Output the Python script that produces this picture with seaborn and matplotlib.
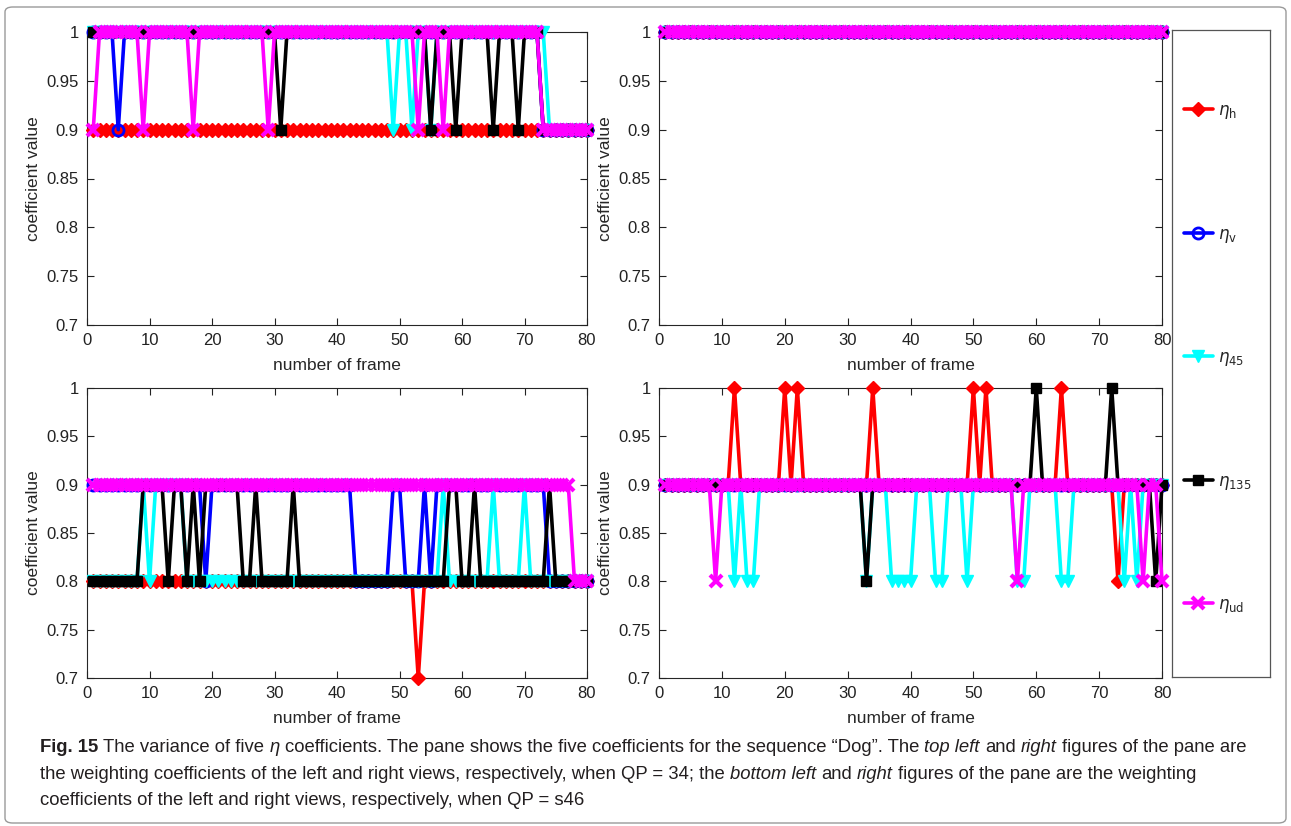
import matplotlib
matplotlib.use("Agg")
import matplotlib.pyplot as plt
import seaborn as sns
from matplotlib.lines import Line2D
from matplotlib.patches import FancyBboxPatch

# ---------------- data (frames 1..80) ----------------
frames = list(range(1, 81))

# QP = 34, left view (top left)
tl_h = [.9] * 80
tl_v = [1, 1, 1, 1, .9, 1, 1, 1, 1, 1,
        1, 1, 1, 1, 1, 1, 1, 1, 1, 1,
        1, 1, 1, 1, 1, 1, 1, 1, 1, 1,
        1, 1, 1, 1, 1, 1, 1, 1, 1, 1,
        1, 1, 1, 1, 1, 1, 1, 1, 1, 1,
        1, 1, 1, 1, 1, 1, 1, 1, 1, 1,
        1, 1, 1, 1, 1, 1, 1, 1, 1, 1,
        1, 1, .9, .9, .9, .9, .9, .9, .9, .9]
tl_45 = [1, 1, 1, 1, 1, 1, 1, 1, 1, 1,
         1, 1, 1, 1, 1, 1, 1, 1, 1, 1,
         1, 1, 1, 1, 1, 1, 1, 1, 1, 1,
         1, 1, 1, 1, 1, 1, 1, 1, 1, 1,
         1, 1, 1, 1, 1, 1, 1, 1, .9, 1,
         1, .9, 1, 1, .9, 1, 1, 1, 1, 1,
         1, 1, 1, 1, 1, 1, 1, 1, 1, 1,
         1, 1, 1, .9, .9, .9, .9, .9, .9, .9]
tl_135 = [1, 1, 1, 1, 1, 1, 1, 1, 1, 1,
          1, 1, 1, 1, 1, 1, 1, 1, 1, 1,
          1, 1, 1, 1, 1, 1, 1, 1, 1, 1,
          .9, 1, 1, 1, 1, 1, 1, 1, 1, 1,
          1, 1, 1, 1, 1, 1, 1, 1, 1, 1,
          1, 1, 1, 1, .9, 1, 1, 1, .9, 1,
          1, 1, 1, 1, .9, 1, 1, 1, .9, 1,
          1, 1, .9, .9, .9, .9, .9, .9, .9, .9]
tl_ud = [.9, 1, 1, 1, 1, 1, 1, 1, .9, 1,
         1, 1, 1, 1, 1, 1, .9, 1, 1, 1,
         1, 1, 1, 1, 1, 1, 1, 1, .9, 1,
         1, 1, 1, 1, 1, 1, 1, 1, 1, 1,
         1, 1, 1, 1, 1, 1, 1, 1, 1, 1,
         1, 1, .9, 1, 1, 1, .9, 1, 1, 1,
         1, 1, 1, 1, 1, 1, 1, 1, 1, 1,
         1, 1, .9, .9, .9, .9, .9, .9, .9, .9]

# QP = 34, right view (top right)
tr_h = [1] * 80
tr_v = [1] * 80
tr_45 = [1] * 80
tr_135 = [1] * 80
tr_ud = [1] * 80

# QP = 46, left view (bottom left)
bl_h = [.8, .8, .8, .8, .8, .8, .8, .8, .8, .8,
        .8, .8, .8, .8, .8, .8, .8, .8, .8, .8,
        .8, .8, .8, .8, .8, .8, .8, .8, .8, .8,
        .8, .8, .8, .8, .8, .8, .8, .8, .8, .8,
        .8, .8, .8, .8, .8, .8, .8, .8, .8, .8,
        .8, .8, .7, .8, .8, .8, .8, .8, .8, .8,
        .8, .8, .8, .8, .8, .8, .8, .8, .8, .8,
        .8, .8, .8, .8, .8, .8, .8, .8, .8, .8]
bl_v = [.9, .9, .9, .9, .9, .9, .9, .9, .9, .9,
        .9, .9, .9, .9, .9, .9, .9, .9, .8, .9,
        .9, .9, .9, .9, .9, .9, .9, .9, .9, .9,
        .9, .9, .9, .9, .9, .9, .9, .9, .9, .9,
        .9, .9, .8, .8, .8, .8, .8, .8, .9, .9,
        .8, .8, .8, .9, .8, .9, .9, .9, .9, .9,
        .9, .9, .9, .9, .9, .9, .9, .9, .9, .9,
        .9, .9, .9, .8, .8, .8, .8, .8, .8, .8]
bl_45 = [.8, .8, .8, .8, .8, .8, .8, .8, .9, .8,
         .9, .9, .9, .9, .9, .8, .8, .8, .8, .8,
         .8, .8, .8, .8, .8, .8, .8, .8, .8, .8,
         .8, .8, .8, .8, .8, .8, .8, .8, .8, .8,
         .8, .8, .8, .8, .8, .8, .8, .8, .8, .8,
         .8, .8, .8, .8, .8, .8, .9, .8, .8, .8,
         .8, .8, .8, .8, .9, .8, .8, .8, .8, .9,
         .8, .8, .8, .8, .8, .8, .8, .8, .8, .8]
bl_135 = [.8, .8, .8, .8, .8, .8, .8, .8, .9, .9,
          .9, .9, .8, .9, .9, .8, .9, .8, .9, .9,
          .9, .9, .9, .9, .8, .8, .9, .8, .8, .8,
          .8, .8, .9, .8, .8, .8, .8, .8, .8, .8,
          .8, .8, .8, .8, .8, .8, .8, .8, .8, .8,
          .8, .8, .8, .8, .8, .8, .8, .9, .9, .8,
          .8, .9, .8, .8, .8, .8, .8, .8, .8, .8,
          .8, .8, .8, .9, .8, .8, .8, .8, .8, .8]
bl_ud = [.9, .9, .9, .9, .9, .9, .9, .9, .9, .9,
         .9, .9, .9, .9, .9, .9, .9, .9, .9, .9,
         .9, .9, .9, .9, .9, .9, .9, .9, .9, .9,
         .9, .9, .9, .9, .9, .9, .9, .9, .9, .9,
         .9, .9, .9, .9, .9, .9, .9, .9, .9, .9,
         .9, .9, .9, .9, .9, .9, .9, .9, .9, .9,
         .9, .9, .9, .9, .9, .9, .9, .9, .9, .9,
         .9, .9, .9, .9, .9, .9, .9, .8, .8, .8]

# QP = 46, right view (bottom right)
br_h = [.9, .9, .9, .9, .9, .9, .9, .9, .9, .9,
        .9, 1, .9, .9, .9, .9, .9, .9, .9, 1,
        .9, 1, .9, .9, .9, .9, .9, .9, .9, .9,
        .9, .9, .9, 1, .9, .9, .9, .9, .9, .9,
        .9, .9, .9, .9, .9, .9, .9, .9, .9, 1,
        .9, 1, .9, .9, .9, .9, .9, .9, .9, .9,
        .9, .9, .9, 1, .9, .9, .9, .9, .9, .9,
        .9, .9, .8, .9, .9, .9, .9, .9, .9, .9]
br_v = [.9] * 80
br_45 = [.9, .9, .9, .9, .9, .9, .9, .9, .9, .9,
         .9, .8, .9, .8, .8, .9, .9, .9, .9, .9,
         .9, .9, .9, .9, .9, .9, .9, .9, .9, .9,
         .9, .9, .8, .9, .9, .9, .8, .8, .8, .8,
         .9, .9, .9, .8, .8, .9, .9, .9, .8, .9,
         .9, .9, .9, .9, .9, .9, .8, .8, .9, .9,
         .9, .9, .9, .8, .8, .9, .9, .9, .9, .9,
         .9, .9, .9, .8, .9, .8, .9, .9, .9, .9]
br_135 = [.9, .9, .9, .9, .9, .9, .9, .9, .9, .9,
          .9, .9, .9, .9, .9, .9, .9, .9, .9, .9,
          .9, .9, .9, .9, .9, .9, .9, .9, .9, .9,
          .9, .9, .8, .9, .9, .9, .9, .9, .9, .9,
          .9, .9, .9, .9, .9, .9, .9, .9, .9, .9,
          .9, .9, .9, .9, .9, .9, .9, .9, .9, 1,
          .9, .9, .9, .9, .9, .9, .9, .9, .9, .9,
          .9, 1, .9, .9, .9, .9, .9, .9, .8, .9]
br_ud = [.9, .9, .9, .9, .9, .9, .9, .9, .8, .9,
         .9, .9, .9, .9, .9, .9, .9, .9, .9, .9,
         .9, .9, .9, .9, .9, .9, .9, .9, .9, .9,
         .9, .9, .9, .9, .9, .9, .9, .9, .9, .9,
         .9, .9, .9, .9, .9, .9, .9, .9, .9, .9,
         .9, .9, .9, .9, .9, .9, .8, .9, .9, .9,
         .9, .9, .9, .9, .9, .9, .9, .9, .9, .9,
         .9, .9, .9, .9, .9, .9, .8, .9, .9, .8]

series_labels = [r"$\eta_{\rm h}$", r"$\eta_{\rm v}$", r"$\eta_{45}$",
                 r"$\eta_{135}$", r"$\eta_{\rm ud}$"]
x_ticks = [0, 10, 20, 30, 40, 50, 60, 70, 80]
y_ticks = [0.7, 0.75, 0.8, 0.85, 0.9, 0.95, 1.0]
y_ticklabels = ["0.7", "0.75", "0.8", "0.85", "0.9", "0.95", "1"]
x_label = "number of frame"
y_label = "coefficient value"

caption_lines = [
    [("Fig. 15", "b"), ("The variance of five", "n"), ("η", "i"),
     ("coefficients. The pane shows the five coefficients for the sequence \u201cDog\u201d. The", "n"),
     ("top left", "i"), ("and", "n"), ("right", "i"), ("figures of the pane are", "n")],
    [("the weighting coefficients of the left and right views, respectively, when QP = 34; the", "n"),
     ("bottom left", "i"), ("and", "n"), ("right", "i"),
     ("figures of the pane are the weighting", "n")],
    [("coefficients of the left and right views, respectively, when QP = s46", "n")],
]

# ---------------- styles ----------------
styles = [
    dict(color="#ff0000", marker="D", markersize=7.5, markerfacecolor="#ff0000",
         markeredgecolor="#ff0000", markeredgewidth=1),
    dict(color="#0000ff", marker="o", markersize=8, markerfacecolor="none",
         markeredgecolor="#0000ff", markeredgewidth=2),
    dict(color="#00ffff", marker="v", markersize=9, markerfacecolor="#00ffff",
         markeredgecolor="#00ffff", markeredgewidth=1),
    dict(color="#000000", marker="s", markersize=6.5, markerfacecolor="#000000",
         markeredgecolor="#000000", markeredgewidth=1),
    dict(color="#ff00ff", marker="x", markersize=8, markerfacecolor="#ff00ff",
         markeredgecolor="#ff00ff", markeredgewidth=3),
]
LW = 2.6

sns.set_style("ticks")
plt.rcParams["font.family"] = ["Liberation Sans", "DejaVu Sans"]
plt.rcParams["mathtext.fontset"] = "dejavusans"

W, H = 1291, 826
fig = plt.figure(figsize=(W / 100, H / 100), dpi=100)


def px_rect(l, t, r, b):
    return [l / W, 1 - b / H, (r - l) / W, (b - t) / H]


panels = [
    (px_rect(87, 32, 587, 325), [tl_h, tl_v, tl_45, tl_135, tl_ud]),
    (px_rect(659, 32, 1162, 325), [tr_h, tr_v, tr_45, tr_135, tr_ud]),
    (px_rect(87, 388, 587, 678), [bl_h, bl_v, bl_45, bl_135, bl_ud]),
    (px_rect(659, 388, 1162, 678), [br_h, br_v, br_45, br_135, br_ud]),
]

for rect, data in panels:
    ax = fig.add_axes(rect)
    for vals, st in zip(data, styles):
        sns.lineplot(x=frames, y=vals, ax=ax, linewidth=LW, clip_on=False,
                     legend=False, errorbar=None, **st)
    ax.set_xlim(0, 80)
    ax.set_ylim(0.7, 1.0)
    ax.set_xticks(x_ticks)
    ax.set_yticks(y_ticks)
    ax.set_yticklabels(y_ticklabels)
    ax.tick_params(direction="in", top=True, right=True, length=5, width=0.8,
                   labelsize=12, colors="#222222", pad=6)
    for sp in ax.spines.values():
        sp.set_visible(True)
        sp.set_linewidth(0.8)
        sp.set_color("#262626")
        sp.set_zorder(0.5)
    ax.set_xlabel(x_label, fontsize=12.5, labelpad=7)
    ax.set_ylabel(y_label, fontsize=12.5, labelpad=4)

# ---------------- legend ----------------
lax = fig.add_axes(px_rect(1172, 30, 1270, 677))
lax.set_xticks([])
lax.set_yticks([])
for sp in lax.spines.values():
    sp.set_linewidth(0.9)
    sp.set_color("#555555")
handles = [Line2D([], [], linewidth=LW, **st) for st in styles]
lax.legend(handles, series_labels, loc="center left", bbox_to_anchor=(0.05, 0.491),
           frameon=False, fontsize=12, labelspacing=6.33, handlelength=1.75,
           handletextpad=0.3, numpoints=1, borderaxespad=0)

# ---------------- border ----------------
fig.patches.append(FancyBboxPatch((5 / W, 3 / H), 1281 / W, 816 / H,
                                  boxstyle="round,pad=0,rounding_size=0.006",
                                  transform=fig.transFigure, fill=False,
                                  edgecolor="#9a9a9a", linewidth=1))

# ---------------- caption ----------------
cap_family = ["Liberation Sans Narrow", "Liberation Sans"]
renderer = fig.canvas.get_renderer()


def kw_for(style, size):
    kw = dict(fontsize=size, family=cap_family, color="#231f20")
    if style == "b":
        kw["fontweight"] = "bold"
    if style == "i":
        kw["fontstyle"] = "italic"
    return kw


def width_of(s, style, size):
    t = fig.text(0, 0, s, **kw_for(style, size))
    w = t.get_window_extent(renderer).width
    t.remove()
    return w


def line_width(runs, size):
    sp = width_of("n n", "n", size) - width_of("nn", "n", size)
    return sum(width_of(s, st, size) for s, st in runs) + sp * (len(runs) - 1)


base = 12.0
scale = 1213.0 / line_width(caption_lines[0], base)
cap_size = base * scale


def draw_line(runs, x_px, y_px, size):
    sp = width_of("n n", "n", size) - width_of("nn", "n", size)
    x = x_px
    for s, st in runs:
        t = fig.text(x / W, 1 - y_px / H, s, ha="left", va="baseline", **kw_for(st, size))
        x += t.get_window_extent(renderer).width + sp


for runs, yb in zip(caption_lines, [752, 779, 805]):
    draw_line(runs, 40, yb, cap_size)

fig.savefig("out.png", dpi=100)
